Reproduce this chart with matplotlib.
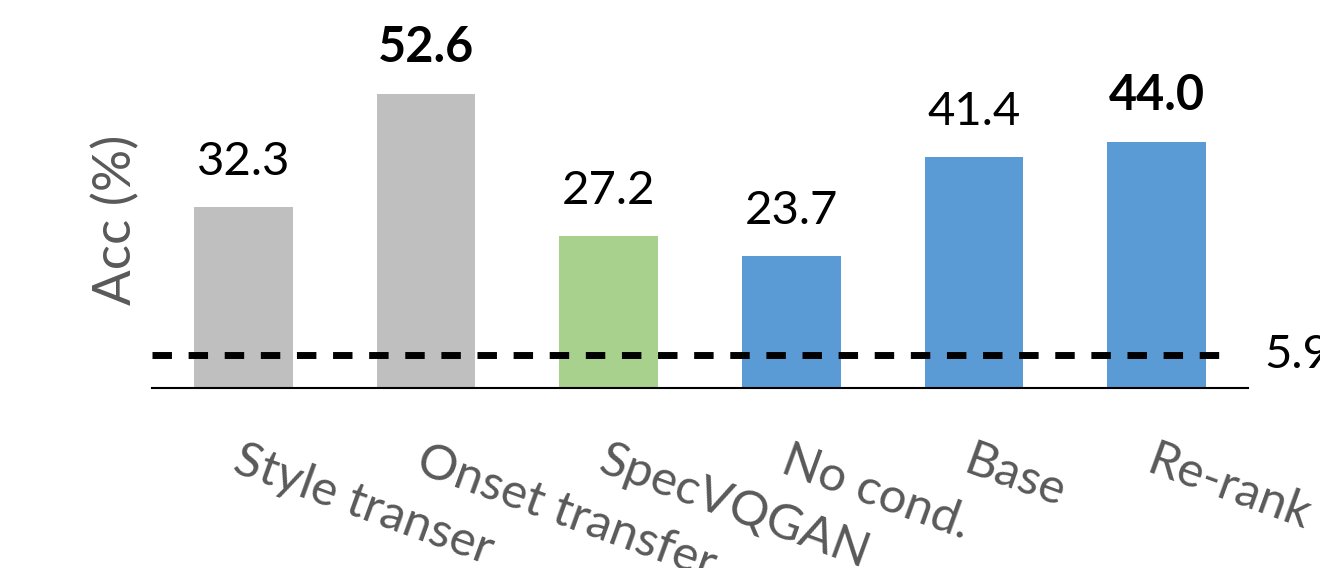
import matplotlib
matplotlib.use("Agg")
import matplotlib.pyplot as plt
import matplotlib.transforms as mtransforms

# Accuracy per method
methods = ["Style transer", "Onset transfer", "SpecVQGAN", "No cond.", "Base", "Re-rank"]
acc = [32.3, 52.6, 27.2, 23.7, 41.4, 44.0]
bold_labels = [False, True, False, False, False, True]
chance = 5.9

GRAY = "#bfbfbf"
GREEN = "#a9d18e"
BLUE = "#5b9bd5"
colors = [GRAY, GRAY, GREEN, BLUE, BLUE, BLUE]

plt.rcParams["font.family"] = ["Lato", "DejaVu Sans"]

fig = plt.figure(figsize=(13.2, 5.68), dpi=100)
ax = fig.add_axes([0.1152, 0.3169, 0.8303, 0.5905])

x = list(range(len(methods)))
ax.bar(x, acc, width=0.54, color=colors)

# value labels over bars
for xi, v, b in zip(x, acc, bold_labels):
    ax.annotate(f"{v:.1f}", (xi, v), xytext=(0, 23), textcoords="offset points",
                ha="center", va="baseline", fontsize=35 if b else 34,
                fontweight="bold" if b else "normal", color="black")

# chance level
ax.plot([-0.5, 5.37], [chance, chance], color="black", lw=5, dashes=(2.8, 2.4))
ax.text(5.59, chance, f"{chance}", ha="left", va="center", fontsize=34, color="black",
        clip_on=False)

ax.set_xlim(-0.5, 5.5)
ax.set_ylim(0, 60)
for s in ["top", "right", "left"]:
    ax.spines[s].set_visible(False)
ax.spines["bottom"].set_linewidth(1.5)
ax.set_yticks([])
ax.set_xticks([])

# rotated method names, starting at the bar centre
trans = mtransforms.blended_transform_factory(ax.transData, ax.transAxes)
trans = trans + mtransforms.ScaledTranslation(0, -50 / 100, fig.dpi_scale_trans)
for xi, name in zip(x, methods):
    ax.text(xi, 0, name, transform=trans, rotation=-20, rotation_mode="anchor",
            ha="left", va="top", fontsize=35.5, color="#595959", clip_on=False)

ax.set_ylabel("Acc (%)", fontsize=38, color="#595959")
ax.yaxis.set_label_coords(-0.011, 0.5)

fig.savefig("out.png", dpi=100)
